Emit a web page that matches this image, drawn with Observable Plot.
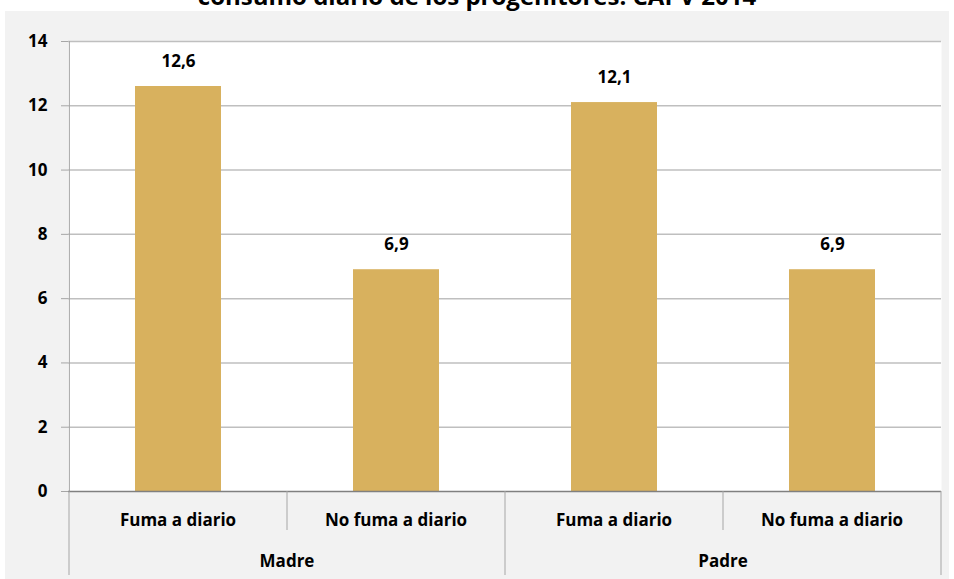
<!DOCTYPE html>
<html>
<head>
<meta charset="utf-8">
<script src="https://cdn.jsdelivr.net/npm/d3@7"></script>
<script src="https://cdn.jsdelivr.net/npm/@observablehq/plot@0.6"></script>
<style>
  html, body { margin: 0; padding: 0; background: #ffffff; }
  #title { position: relative; height: 11px; overflow: hidden; width: 954px; }
  #title span { position: absolute; left: 0; width: 954px; top: -21px; text-align: center;
    font-family: "Open Sans", "Liberation Sans", sans-serif; font-weight: bold; font-size: 24px; color: #000; white-space: nowrap; }
  #chart { margin-left: 5px; width: 944px; }
  #chart svg { display: block; }
</style>
</head>
<body>
<div id="title"><span>consumo diario de los progenitores. CAPV 2014</span></div>
<div id="chart"></div>
<script>
const groups = ["Madre", "Madre", "Padre", "Padre"];
const categories = ["Fuma a diario", "No fuma a diario", "Fuma a diario", "No fuma a diario"];
const values = [12.6, 6.9, 12.1, 6.9];
const yTicks = [0, 2, 4, 6, 8, 10, 12, 14];

const data = values.map((v, i) => ({key: groups[i] + "|" + categories[i], group: groups[i], cat: categories[i], value: v}));
const keys = data.map(d => d.key);
const fmt = v => v.toFixed(1).replace(".", ",");
const FONT = "'Open Sans', 'Liberation Sans', sans-serif";
const FS = 17;

// custom mark: hierarchical category axis drawn from the x band scale
function categoryAxis(index, scales, values, dims, context) {
  const x = scales.x, bw = x.bandwidth();
  const g = d3.create("svg:g");
  const y0 = dims.height - dims.marginBottom;
  const bottomFull = dims.height - 4;
  const bottomShort = y0 + 39;
  const grouped = d3.groups(data, d => d.group);
  const stroke = "#a6a6a6";
  grouped.forEach(([gname, rows], gi) => {
    const start = x(rows[0].key), end = x(rows[rows.length - 1].key) + bw;
    if (gi === 0) g.append("line").attr("x1", start).attr("x2", start).attr("y1", y0).attr("y2", bottomFull).attr("stroke", stroke);
    g.append("line").attr("x1", end).attr("x2", end).attr("y1", y0).attr("y2", bottomFull).attr("stroke", stroke);
    rows.slice(0, -1).forEach(r => {
      const e = x(r.key) + bw;
      g.append("line").attr("x1", e).attr("x2", e).attr("y1", y0).attr("y2", bottomShort).attr("stroke", stroke);
    });
    g.append("text").attr("x", (start + end) / 2).attr("y", y0 + 71)
      .attr("text-anchor", "middle").attr("dominant-baseline", "middle")
      .attr("font-family", FONT).attr("font-weight", "bold").attr("font-size", FS).attr("fill", "#000")
      .text(gname);
  });
  data.forEach(d => {
    g.append("text").attr("x", x(d.key) + bw / 2).attr("y", y0 + 30)
      .attr("text-anchor", "middle").attr("dominant-baseline", "middle")
      .attr("font-family", FONT).attr("font-weight", "bold").attr("font-size", FS).attr("fill", "#000")
      .text(d.cat);
  });
  return g.node();
}

const chart = Plot.plot({
  width: 944,
  height: 568,
  marginTop: 30,
  marginLeft: 63,
  marginRight: 8,
  marginBottom: 88,
  style: {background: "#f2f2f2", fontFamily: FONT},
  x: {domain: keys, padding: 0, axis: null},
  y: {domain: [0, 14], axis: null, label: null},
  marks: [
    Plot.frame({fill: "#ffffff", stroke: null}),
    Plot.gridY(yTicks.filter(t => t > 0), {stroke: "#bfbfbf", strokeOpacity: 1, strokeWidth: 1.5}),
    Plot.barY(data, {x: "key", y: "value", fill: "#d8b15e", insetLeft: 66, insetRight: 66}),
    Plot.text(data, {x: "key", y: "value", text: d => fmt(d.value), dy: -25, fontWeight: "bold", fontSize: FS, fill: "#000"}),
    Plot.axisY(yTicks, {label: null, tickSize: 7, tickPadding: 14, fontWeight: "bold", fontSize: FS, stroke: "#a6a6a6", fill: "#000", tickFormat: d => d}),
    Plot.ruleX([0], {x: () => keys[0], dx: -109.125, stroke: "#a6a6a6"}),
    Plot.ruleY([0], {stroke: "#808080", strokeWidth: 1.5}),
    categoryAxis
  ]
});
document.getElementById("chart").appendChild(chart);
</script>
</body>
</html>
